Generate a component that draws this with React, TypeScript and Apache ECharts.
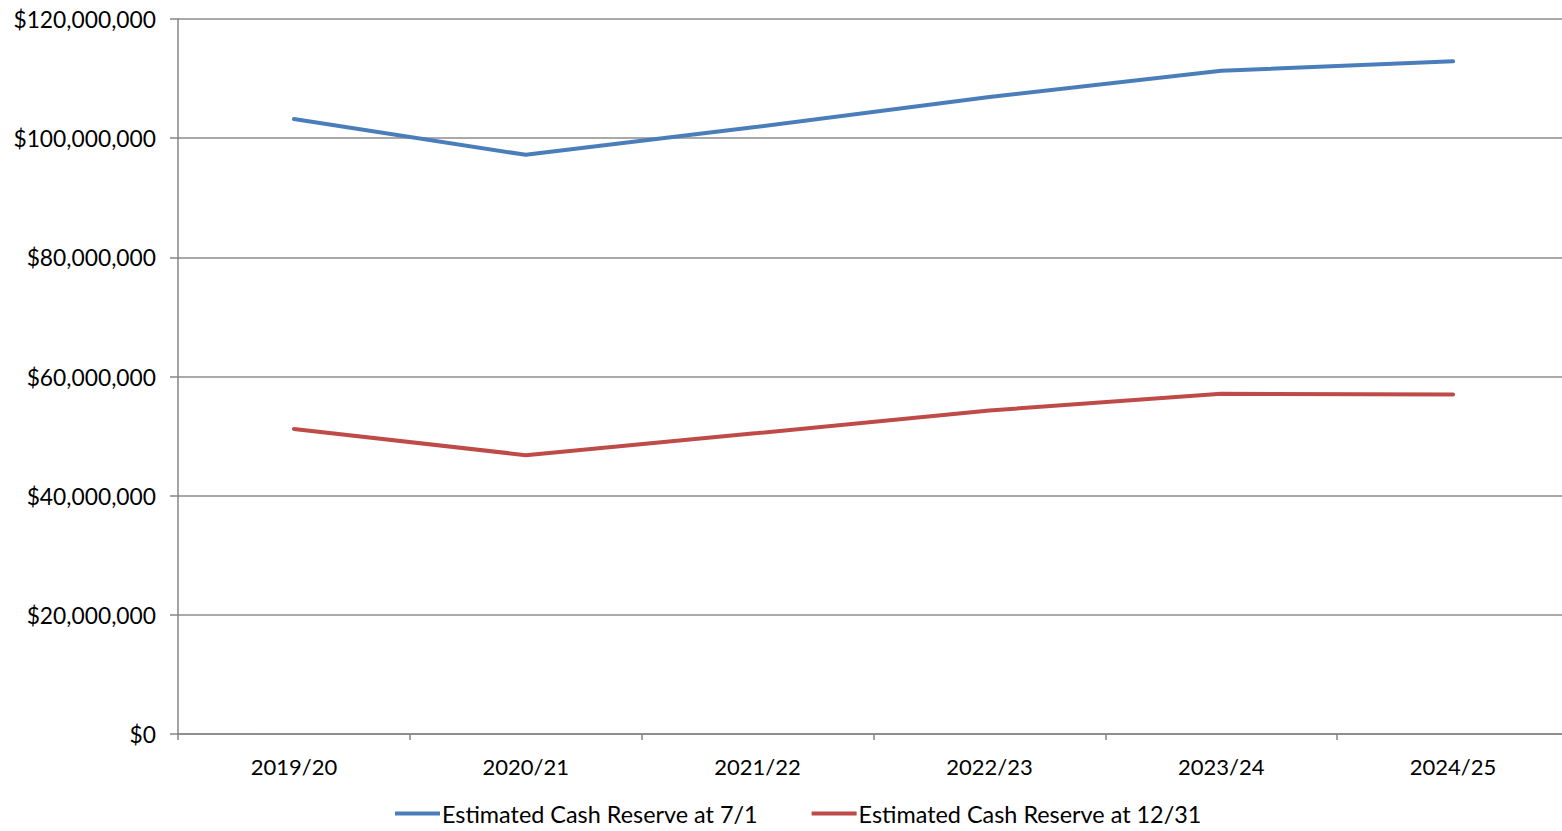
import React, { useEffect, useRef } from "react";
import * as echarts from "echarts";

const categories = ["2019/20", "2020/21", "2021/22", "2022/23", "2023/24", "2024/25"];
const reserveJul = [103200000, 97200000, 101900000, 106900000, 111300000, 112900000];
const reserveDec = [51200000, 46800000, 50500000, 54300000, 57100000, 57000000];
const seriesNames = ["Estimated Cash Reserve at 7/1", "Estimated Cash Reserve at 12/31"];
const seriesColors = ["#4A7EBB", "#BE4B48"];

export default function App() {
  const ref = useRef<HTMLDivElement>(null);
  useEffect(() => {
    document.body.style.margin = "0";
    const chart = echarts.init(ref.current!, null, { renderer: "svg" });
    const font = "Lato, 'Noto Sans', sans-serif";
    chart.setOption({
      animation: false,
      backgroundColor: "#ffffff",
      textStyle: { fontFamily: font },
      grid: { left: 178, right: 0, top: 19, bottom: 97, containLabel: false },
      legend: {
        left: 395,
        top: 802,
        padding: 0,
        icon: "rect",
        itemWidth: 45,
        itemHeight: 4,
        itemGap: 54,
        textStyle: { fontFamily: font, fontSize: 23.4, color: "#000", padding: [0, 0, 0, -3] },
        data: seriesNames,
      },
      xAxis: {
        type: "category",
        data: categories,
        boundaryGap: true,
        axisLine: { lineStyle: { color: "#868686", width: 1.5 } },
        axisTick: { show: true, length: 6, alignWithLabel: false, lineStyle: { color: "#868686", width: 1.5 } },
        axisLabel: { fontFamily: font, fontSize: 22, color: "#000", margin: 21 },
        splitLine: { show: false },
      },
      yAxis: {
        type: "value",
        min: 0,
        max: 120000000,
        interval: 20000000,
        axisLine: { show: true, lineStyle: { color: "#868686", width: 1.5 } },
        axisTick: { show: true, length: 8, lineStyle: { color: "#868686", width: 1.5 } },
        axisLabel: {
          fontFamily: font,
          fontSize: 22.8,
          color: "#000",
          margin: 22,
          formatter: (v: number) => "$" + v.toLocaleString("en-US"),
        },
        splitLine: { show: true, lineStyle: { color: "#8c8c8c", width: 1.5 } },
      },
      series: [
        {
          name: seriesNames[0],
          type: "line",
          data: reserveJul,
          showSymbol: false,
          symbol: "none",
          color: seriesColors[0],
          lineStyle: { width: 4, color: seriesColors[0], cap: "round" },
        },
        {
          name: seriesNames[1],
          type: "line",
          data: reserveDec,
          showSymbol: false,
          symbol: "none",
          color: seriesColors[1],
          lineStyle: { width: 4, color: seriesColors[1], cap: "round" },
        },
      ],
    });
    return () => chart.dispose();
  }, []);
  return (
    <div
      style={{
        position: "fixed",
        left: 0,
        top: 0,
        width: 1562,
        height: 831,
        overflow: "hidden",
        background: "#fff",
      }}
    >
      <div ref={ref} style={{ width: 1569, height: 831 }} />
    </div>
  );
}
